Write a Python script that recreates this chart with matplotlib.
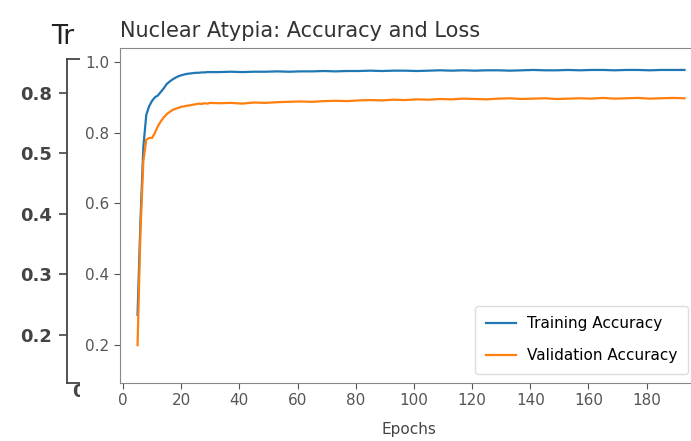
import matplotlib.pyplot as plt
from matplotlib.patches import Rectangle

# --- data ---------------------------------------------------------------
epochs = list(range(5, 31)) + list(range(33, 194, 4))

train_acc = [
    0.285, 0.55, 0.76, 0.85, 0.875, 0.89, 0.90, 0.905, 0.915, 0.925,
    0.937, 0.944, 0.950, 0.955, 0.959, 0.962, 0.964, 0.966, 0.967, 0.968,
    0.969, 0.969, 0.970, 0.970, 0.971, 0.971,
    0.971, 0.972, 0.971, 0.972, 0.972, 0.973, 0.972, 0.973, 0.973, 0.974,
    0.973, 0.974, 0.974, 0.975, 0.974, 0.975, 0.975, 0.974, 0.975, 0.976,
    0.975, 0.976, 0.975, 0.976, 0.976, 0.975, 0.976, 0.977, 0.976, 0.976,
    0.977, 0.976, 0.977, 0.977, 0.976, 0.977, 0.977, 0.976, 0.977, 0.977, 0.977,
]

val_acc = [
    0.20, 0.52, 0.72, 0.78, 0.785, 0.785, 0.80, 0.818, 0.832, 0.843,
    0.852, 0.858, 0.864, 0.867, 0.870, 0.873, 0.874, 0.876, 0.877, 0.879,
    0.880, 0.882, 0.881, 0.883, 0.882, 0.884,
    0.883, 0.884, 0.882, 0.885, 0.884, 0.886, 0.887, 0.888, 0.887, 0.889,
    0.890, 0.889, 0.891, 0.892, 0.891, 0.893, 0.892, 0.894, 0.893, 0.895,
    0.894, 0.896, 0.895, 0.894, 0.896, 0.897, 0.895, 0.896, 0.897, 0.895,
    0.896, 0.897, 0.896, 0.898, 0.896, 0.897, 0.898, 0.896, 0.897, 0.898, 0.897,
]

# the chart pasted behind (only its left edge shows)
bg_tick_pos = [0.6, 0.5, 0.4, 0.3, 0.2]
bg_tick_labels = ["0.8", "0.5", "0.4", "0.3", "0.2"]

W, H = 691, 441
fig = plt.figure(figsize=(W / 100, H / 100), dpi=100)

def px_box(left, top, right, bottom):
    return [left / W, 1 - bottom / H, (right - left) / W, (bottom - top) / H]

# background chart ---------------------------------------------------------
ax_bg = fig.add_axes(px_box(67, 59, 367, 383), zorder=0)
ax_bg.set_ylim(0.1207, 0.656)
ax_bg.set_xlim(-11.5 / 300, 1 - 11.5 / 300)
ax_bg.set_yticks(bg_tick_pos, labels=bg_tick_labels)
ax_bg.set_xticks([0], labels=["0"])
ax_bg.tick_params(axis="both", labelsize=13, colors="#444444", length=6, width=1.2)
ax_bg.tick_params(axis="y", pad=5)
ax_bg.tick_params(axis="x", pad=0, length=0)
for lab in ax_bg.get_yticklabels() + ax_bg.get_xticklabels():
    lab.set_fontweight("bold")
for s in ax_bg.spines.values():
    s.set_color("#444444")
    s.set_linewidth(1.3)
ax_bg.set_title("Tr", loc="left", x=-0.053, pad=11,
                fontsize=19, color="#222222")

# white cover of the front chart
fig.add_artist(Rectangle((80 / W, 0), 1, 1, transform=fig.transFigure,
                         facecolor="white", edgecolor="none", zorder=1))

# front chart --------------------------------------------------------------
ax = fig.add_axes(px_box(120, 48, 697, 383), zorder=2)
ax.plot(epochs, train_acc, color="#1f77b4", lw=1.6, label="Training Accuracy")
ax.plot(epochs, val_acc, color="#ff7f0e", lw=1.6, label="Validation Accuracy")
ax.set_xlim(-1.03, 197.3)
ax.set_ylim(0.093, 1.039)
ax.set_yticks([0.2, 0.4, 0.6, 0.8, 1.0])
ax.set_xticks(range(0, 181, 20))
ax.tick_params(axis="both", labelsize=11, colors="#555555", length=4)
for s in ax.spines.values():
    s.set_color("#888888")
ax.set_xlabel("Epochs", fontsize=11, color="#444444", labelpad=10)
ax.set_title("Nuclear Atypia: Accuracy and Loss", loc="left", fontsize=15,
             color="#333333", pad=8)
ax.legend(loc="lower right", fontsize=11, handlelength=2.0, framealpha=1,
          edgecolor="#dddddd", borderaxespad=0.6, labelspacing=1.1,
          borderpad=0.7, handletextpad=0.7)

fig.savefig("out.png", dpi=100)
